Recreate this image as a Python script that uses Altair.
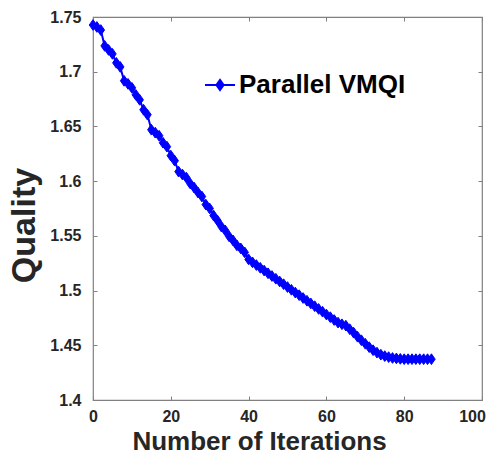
import altair as alt
import pandas as pd

iterations = list(range(88))
quality = [
    1.7427, 1.7409, 1.7381, 1.7236, 1.7199, 1.7163, 1.7081, 1.7044, 1.6917, 1.6889,
    1.6853, 1.6789, 1.6743, 1.6652, 1.6607, 1.6470, 1.6443, 1.6415, 1.6351, 1.6315,
    1.6233, 1.6187, 1.6087, 1.6060, 1.6032, 1.5978, 1.5941, 1.5896, 1.5859, 1.5786,
    1.5750, 1.5686, 1.5640, 1.5585, 1.5549, 1.5495, 1.5458, 1.5413, 1.5385, 1.5349,
    1.5285, 1.5258, 1.5233, 1.5208, 1.5183, 1.5158, 1.5133, 1.5108, 1.5083, 1.5058,
    1.5032, 1.5007, 1.4982, 1.4958, 1.4932, 1.4907, 1.4882, 1.4857, 1.4832, 1.4807,
    1.4781, 1.4757, 1.4731, 1.4707, 1.4692, 1.4679, 1.4647, 1.4615, 1.4578, 1.4546,
    1.4514, 1.4483, 1.4455, 1.4433, 1.4414, 1.4401, 1.4392, 1.4384, 1.4380, 1.4376,
    1.4373, 1.4373, 1.4373, 1.4373, 1.4373, 1.4373, 1.4373, 1.4373,
]
series_name = "Parallel VMQI"
x_ticks = [0, 20, 40, 60, 80, 100]
y_ticks = [1.4, 1.45, 1.5, 1.55, 1.6, 1.65, 1.7, 1.75]

df = pd.DataFrame({"iter": iterations, "quality": quality, "series": series_name})

FONT = "Liberation Sans"
AX = "#262626"
BOX = "#808080"
BLUE = "#0000ff"

xscale = alt.Scale(domain=[0, 100], nice=False, zero=False)
yscale = alt.Scale(domain=[1.4, 1.75], nice=False, zero=False)

x_main = alt.X(
    "iter:Q", scale=xscale,
    axis=alt.Axis(
        orient="bottom", values=x_ticks, domain=False, grid=False,
        offset=-4, tickSize=4, tickColor=BOX, tickWidth=1,
        labelFont=FONT, labelFontSize=16, labelFontWeight="bold", labelColor=AX,
        labelPadding=8, labelFlush=False,
        labelOffset={"condition": {"test": "datum.value == 100", "value": -10}, "value": 0},
        title="Number of Iterations", titleFont=FONT, titleFontSize=26,
        titleFontWeight="bold", titleColor=AX,
        titleAnchor="start", titleX=166, titleY=53, titleAlign="center",
        titleBaseline="alphabetic",
    ),
)
y_main = alt.Y(
    "quality:Q", scale=yscale,
    axis=alt.Axis(
        orient="left", values=y_ticks, domain=False, grid=False,
        offset=-4, tickSize=4, tickColor=BOX, tickWidth=1,
        labelFont=FONT, labelFontSize=16, labelFontWeight="bold", labelColor=AX,
        labelPadding=12, labelFlush=False, format=".3~g",
        title="Quality", titleFont=FONT, titleFontSize=34,
        titleFontWeight="bold", titleColor=AX,
        titleAnchor="start", titleX=-73, titleY=208, titleAngle=270,
        titleAlign="center", titleBaseline="middle",
    ),
)

color = alt.Color(
    "series:N",
    scale=alt.Scale(range=[BLUE]),
    legend=alt.Legend(
        title=None, orient="none", legendX=111, legendY=52, padding=0,
        symbolType="M-1,0L1,0M0,-0.34L0.24,0L0,0.34L-0.24,0Z",
        symbolSize=900, symbolStrokeWidth=2, symbolStrokeColor=BLUE,
        symbolFillColor=BLUE, labelOffset=3, labelLimit=400,
        labelFont=FONT, labelFontSize=26, labelFontWeight="bold", labelColor="black",
    ),
)

line = alt.Chart(df).mark_line(strokeWidth=2).encode(x=x_main, y=y_main, color=color)
pts = alt.Chart(df).mark_point(
    shape="M0,-1L0.7,0L0,1L-0.7,0Z", size=115, filled=True, opacity=1,
    color=BLUE, stroke=BLUE, strokeWidth=1,
).encode(
    x=alt.X("iter:Q", scale=xscale, axis=None),
    y=alt.Y("quality:Q", scale=yscale, axis=None),
)

frame = alt.Chart(df).mark_point(opacity=0).encode(
    x=alt.X("iter:Q", scale=xscale, axis=alt.Axis(
        orient="top", values=x_ticks, domain=False, grid=False, labels=False,
        offset=-4, tickSize=4, tickColor=BOX, tickWidth=1, title=None)),
    y=alt.Y("quality:Q", scale=yscale, axis=alt.Axis(
        orient="right", values=y_ticks, domain=False, grid=False, labels=False,
        offset=-4, tickSize=4, tickColor=BOX, tickWidth=1, title=None)),
)

chart = (
    alt.layer(line, pts, frame)
    .resolve_axis(x="independent", y="independent")
    .properties(
        width=389, height=383,
        autosize=alt.AutoSizeParams(type="none"),
        padding={"left": 85, "top": 9, "right": 4, "bottom": 50},
    )
    .configure_view(stroke=BOX, strokeWidth=1.2)
)

chart.save("out.html", embed_options={"renderer": "svg", "actions": False})
